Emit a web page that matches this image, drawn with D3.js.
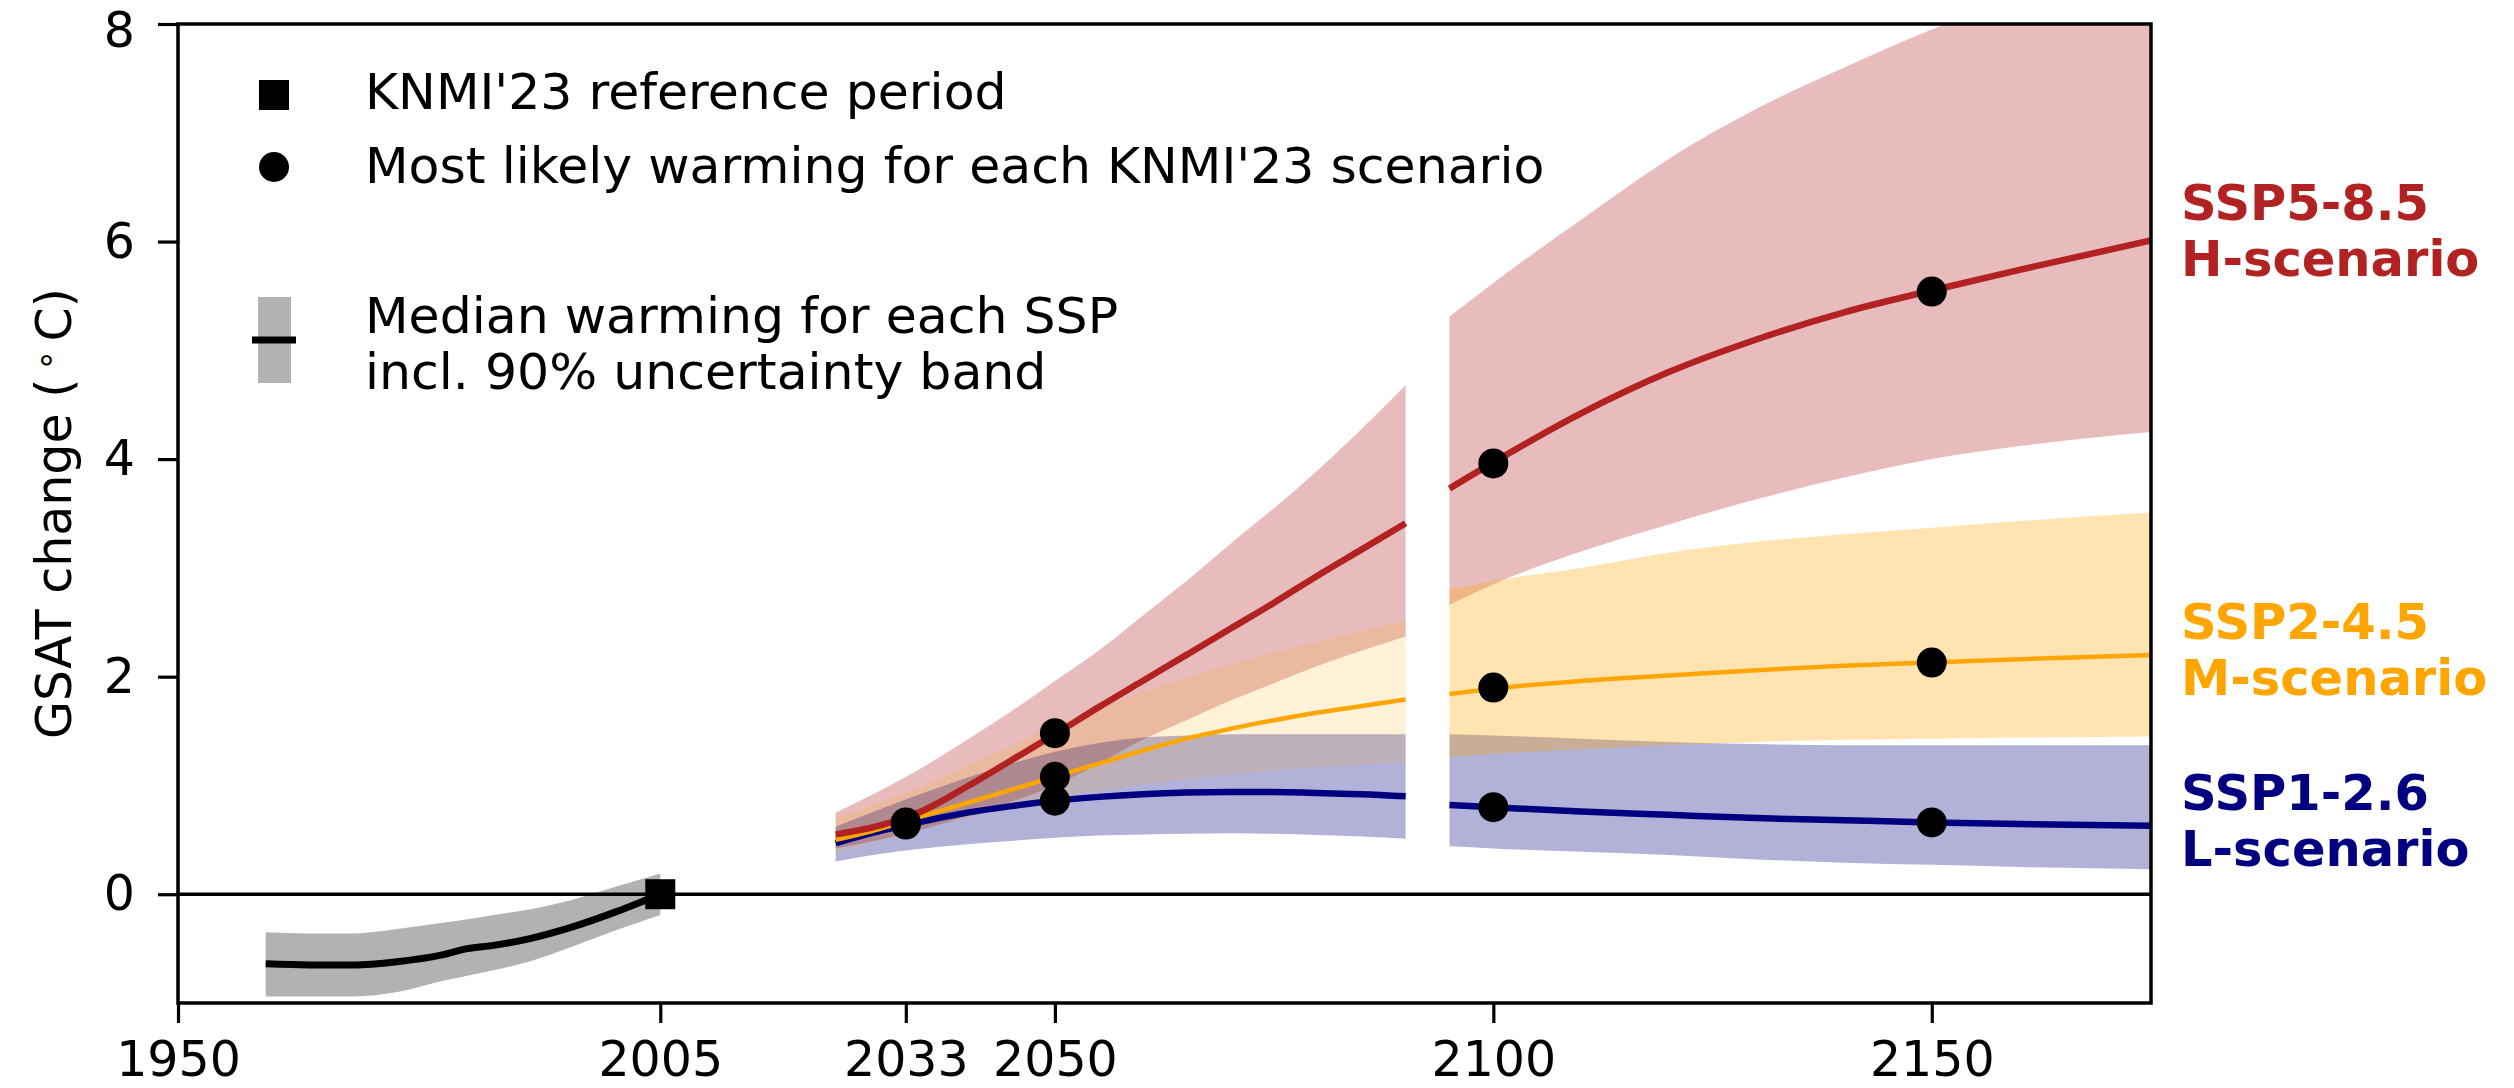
<!DOCTYPE html>
<html>
<head>
<meta charset="utf-8">
<script src="https://cdn.jsdelivr.net/npm/d3@7"></script>
<style>
  body { margin: 0; background: #fff; }
  text { font-family: "DejaVu Sans", sans-serif; }
</style>
</head>
<body>
<div id="gsat-chart"></div>
<script>

// ---- data ----
var xTickYears = [1950, 2005, 2033, 2050, 2100, 2150];
var yTickValues = [0, 2, 4, 6, 8];

// observed warming, relative to the KNMI'23 reference period
var histYears  = [1960, 1965, 1970, 1975, 1980, 1983, 1986, 1990, 1995, 2000, 2005];
var histMedian = [-0.64, -0.65, -0.65, -0.62, -0.56, -0.50, -0.47, -0.41, -0.30, -0.16, 0.0];
var histUpper  = [-0.35, -0.36, -0.36, -0.32, -0.265, -0.23, -0.19, -0.14, -0.05, 0.07, 0.19];
var histLower  = [-0.94, -0.94, -0.94, -0.90, -0.80, -0.75, -0.70, -0.62, -0.48, -0.33, -0.19];

// near term projections 2025-2090
var nearYears = [2025, 2030, 2035, 2040, 2045, 2050, 2055, 2060, 2065, 2070, 2075, 2080, 2085, 2090];
var ssp585Near    = [0.55, 0.63, 0.77, 0.99, 1.23, 1.47, 1.72, 1.96, 2.20, 2.44, 2.68, 2.93, 3.17, 3.41];
var ssp585NearHi  = [0.75, 0.95, 1.17, 1.42, 1.68, 1.96, 2.24, 2.56, 2.88, 3.22, 3.55, 3.90, 4.28, 4.68];
var ssp585NearLo  = [0.42, 0.50, 0.60, 0.72, 0.85, 1.00, 1.20, 1.42, 1.60, 1.78, 1.94, 2.10, 2.24, 2.37];
var ssp245Near    = [0.50, 0.60, 0.72, 0.84, 0.96, 1.08, 1.20, 1.32, 1.43, 1.52, 1.60, 1.67, 1.73, 1.79];
var ssp245NearHi  = [0.70, 0.84, 1.00, 1.18, 1.36, 1.55, 1.71, 1.86, 1.99, 2.11, 2.22, 2.32, 2.42, 2.52];
var ssp245NearLo  = [0.38, 0.49, 0.60, 0.70, 0.80, 0.88, 0.95, 1.01, 1.06, 1.10, 1.14, 1.17, 1.19, 1.21];
var ssp126Near    = [0.47, 0.58, 0.67, 0.75, 0.81, 0.86, 0.895, 0.92, 0.935, 0.94, 0.94, 0.93, 0.92, 0.90];
var ssp126NearHi  = [0.62, 0.78, 0.93, 1.07, 1.20, 1.31, 1.39, 1.44, 1.46, 1.47, 1.47, 1.47, 1.47, 1.47];
var ssp126NearLo  = [0.30, 0.37, 0.42, 0.46, 0.49, 0.52, 0.54, 0.55, 0.555, 0.56, 0.555, 0.545, 0.53, 0.51];

// long term projections 2095-2175
var longYears = [2095, 2100, 2110, 2120, 2130, 2140, 2150, 2160, 2175];
var ssp585Long   = [3.73, 3.97, 4.42, 4.80, 5.10, 5.35, 5.55, 5.74, 6.01];
var ssp585LongHi = [5.31, 5.62, 6.20, 6.76, 7.22, 7.60, 7.95, 8.25, 8.70];
var ssp585LongLo = [2.66, 2.85, 3.15, 3.40, 3.63, 3.83, 4.00, 4.12, 4.25];
var ssp245Long   = [1.84, 1.89, 1.96, 2.01, 2.06, 2.10, 2.13, 2.16, 2.20];
var ssp245LongHi = [2.80, 2.88, 3.00, 3.14, 3.24, 3.31, 3.37, 3.43, 3.51];
var ssp245LongLo = [1.26, 1.29, 1.33, 1.37, 1.40, 1.42, 1.43, 1.44, 1.45];
var ssp126Long   = [0.82, 0.80, 0.76, 0.73, 0.70, 0.68, 0.66, 0.645, 0.63];
var ssp126LongHi = [1.47, 1.46, 1.43, 1.40, 1.38, 1.37, 1.37, 1.37, 1.37];
var ssp126LongLo = [0.44, 0.42, 0.39, 0.36, 0.32, 0.29, 0.27, 0.25, 0.23];

// most likely warming per KNMI'23 scenario
var dotYears = [2033, 2050, 2100, 2150];
var dotL = [0.64, 0.86, 0.80, 0.66];
var dotM = [0.65, 1.08, 1.90, 2.13];
var dotH = [0.66, 1.48, 3.96, 5.54];

var refYear = 2005, refValue = 0;

var scenarioNames = ["SSP5-8.5", "SSP2-4.5", "SSP1-2.6"];
var scenarioLabels = ["H-scenario", "M-scenario", "L-scenario"];
var scenarioColors = ["#b22222", "#ffa500", "#000080"];

var legendLabels = ["KNMI'23 reference period", "Most likely warming for each KNMI'23 scenario",
                    "Median warming for each SSP", "incl. 90% uncertainty band"];

// ---- layout ----
var width = 2514, height = 1088;
var margin = {top: 24, right: 363, bottom: 85, left: 178};
var plotW = width - margin.left - margin.right;
var plotH = height - margin.top - margin.bottom;

var svg = d3.select("#gsat-chart").append("svg")
    .attr("width", width)
    .attr("height", height);

svg.append("rect").attr("width", width).attr("height", height).attr("fill", "#fff");

var g = svg.append("g")
    .attr("transform", "translate(" + margin.left + "," + margin.top + ")");

var x = d3.scaleLinear().domain([1950, 2175]).range([0, plotW]);
var y = d3.scaleLinear().domain([-1, 8]).range([plotH, 0]);

g.append("clipPath").attr("id", "plot-clip")
  .append("rect").attr("width", plotW).attr("height", plotH);

var plot = g.append("g").attr("clip-path", "url(#plot-clip)");

// zip arrays into rows for the line / area generators
function rows(years, mid, hi, lo){
  return years.map(function(yr, i){
    return {year: yr, mid: mid[i], hi: hi ? hi[i] : null, lo: lo ? lo[i] : null};
  });
}

var area = d3.area()
    .x(function(d){ return x(d.year); })
    .y0(function(d){ return y(d.lo); })
    .y1(function(d){ return y(d.hi); })
    .curve(d3.curveMonotoneX);

var line = d3.line()
    .x(function(d){ return x(d.year); })
    .y(function(d){ return y(d.mid); })
    .curve(d3.curveMonotoneX);

// historical band
var hist = rows(histYears, histMedian, histUpper, histLower);
plot.append("path").datum(hist)
    .attr("d", area).attr("fill", "#000").attr("fill-opacity", 0.3);

// zero line
g.append("line")
    .attr("x1", 0).attr("x2", plotW)
    .attr("y1", y(0)).attr("y2", y(0))
    .attr("stroke", "#000").attr("stroke-width", 3.5);

// scenario bands: red, blue first, orange on top
var near = [
  rows(nearYears, ssp585Near, ssp585NearHi, ssp585NearLo),
  rows(nearYears, ssp245Near, ssp245NearHi, ssp245NearLo),
  rows(nearYears, ssp126Near, ssp126NearHi, ssp126NearLo)
];
var long = [
  rows(longYears, ssp585Long, ssp585LongHi, ssp585LongLo),
  rows(longYears, ssp245Long, ssp245LongHi, ssp245LongLo),
  rows(longYears, ssp126Long, ssp126LongHi, ssp126LongLo)
];
var bandOrder = [0, 2, 1];

bandOrder.forEach(function(k){
  plot.append("path").datum(near[k])
      .attr("d", area)
      .attr("fill", scenarioColors[k])
      .attr("fill-opacity", k == 1 ? 0.15 : 0.3);
});
bandOrder.forEach(function(k){
  plot.append("path").datum(long[k])
      .attr("d", area)
      .attr("fill", scenarioColors[k])
      .attr("fill-opacity", 0.3);
});

// median lines
var lineWidths = [6.5, 4.5, 6.5];
[2, 1, 0].forEach(function(k){
  [near[k], long[k]].forEach(function(part){
    plot.append("path").datum(part)
        .attr("d", line)
        .attr("fill", "none")
        .attr("stroke", scenarioColors[k])
        .attr("stroke-width", lineWidths[k]);
  });
});

// historical median
plot.append("path").datum(hist)
    .attr("d", line)
    .attr("fill", "none")
    .attr("stroke", "#000")
    .attr("stroke-width", 7);

// dots
[dotL, dotM, dotH].forEach(function(vals){
  plot.selectAll(null)
      .data(dotYears.map(function(yr, i){ return {year: yr, v: vals[i]}; }))
      .enter().append("circle")
      .attr("cx", function(d){ return x(d.year); })
      .attr("cy", function(d){ return y(d.v); })
      .attr("r", 15)
      .attr("fill", "#000");
});

// reference period square
g.append("rect")
    .attr("x", x(refYear) - 15).attr("y", y(refValue) - 15)
    .attr("width", 30).attr("height", 30)
    .attr("fill", "#000");

// ---- axes ----
var xAxis = g.append("g")
    .attr("transform", "translate(0," + plotH + ")")
    .call(d3.axisBottom(x).tickValues(xTickYears).tickFormat(d3.format("d"))
          .tickSize(20).tickPadding(18));
var yAxis = g.append("g")
    .call(d3.axisLeft(y).tickValues(yTickValues).tickFormat(d3.format("d"))
          .tickSize(20).tickPadding(23));

[xAxis, yAxis].forEach(function(ax){
  ax.select(".domain").remove();
  ax.selectAll(".tick line").attr("stroke", "#000").attr("stroke-width", 3.2);
  ax.selectAll(".tick text")
    .attr("fill", "#000")
    .style("font-family", "DejaVu Sans")
    .style("font-size", "49px");
});

// top label sits at the very edge of the page, nudge it down a little
yAxis.selectAll(".tick text")
    .filter(function(d){ return d == 8; })
    .attr("dy", "0.45em");

// frame
g.append("rect")
    .attr("width", plotW).attr("height", plotH)
    .attr("fill", "none").attr("stroke", "#000").attr("stroke-width", 3.5);

// y label
var yLabel = svg.append("text")
    .attr("transform", "translate(71," + (margin.top + plotH / 2) + ") rotate(-90)")
    .attr("text-anchor", "middle")
    .style("font-size", "49px")
    .text("GSAT change (");
yLabel.append("tspan").attr("dx", 8).attr("dy", -14).style("font-size", "34px").text("\u2218");
yLabel.append("tspan").attr("dx", 8).attr("dy", 14).text("C)");

// ---- legend ----
var legend = svg.append("g");
legend.append("rect").attr("x", 259).attr("y", 80).attr("width", 30).attr("height", 30).attr("fill", "#000");
legend.append("circle").attr("cx", 274).attr("cy", 167).attr("r", 15).attr("fill", "#000");
legend.append("rect").attr("x", 258).attr("y", 297).attr("width", 33).attr("height", 86).attr("fill", "#b3b3b3");
legend.append("line").attr("x1", 252).attr("x2", 296).attr("y1", 340).attr("y2", 340)
    .attr("stroke", "#000").attr("stroke-width", 7);

var legendBaselines = [109, 183, 333, 389];
legend.selectAll("text.leg")
    .data(legendLabels)
    .enter().append("text")
    .attr("class", "leg")
    .attr("x", 365)
    .attr("y", function(d, i){ return legendBaselines[i]; })
    .style("font-size", "50.5px")
    .attr("fill", "#000")
    .text(function(d){ return d; });

// ---- scenario labels on the right ----
var labelBaselines = [220, 639, 810];
scenarioNames.forEach(function(name, k){
  var t = svg.append("text")
      .attr("x", 2181)
      .attr("y", labelBaselines[k])
      .attr("fill", scenarioColors[k])
      .style("font-size", "49.5px")
      .style("font-weight", "bold");
  t.append("tspan").attr("x", 2181).text(name);
  t.append("tspan").attr("x", 2181).attr("dy", 56).text(scenarioLabels[k]);
});

</script>
</body>
</html>
